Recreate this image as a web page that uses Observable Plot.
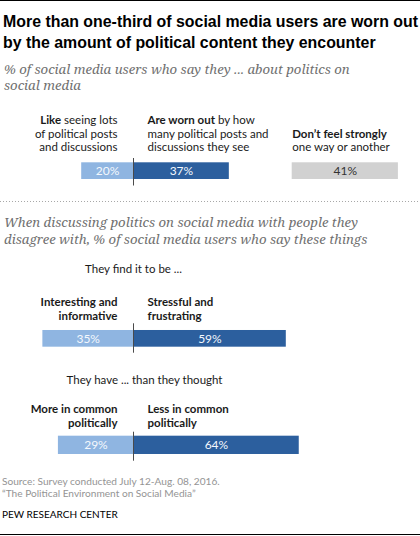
<!DOCTYPE html>
<html><head><meta charset="utf-8">
<script src="https://cdn.jsdelivr.net/npm/d3@7"></script>
<script src="https://cdn.jsdelivr.net/npm/@observablehq/plot@0.6"></script>
<style>
body{margin:0;background:#fff;}
#c{position:relative;width:420px;height:536px;overflow:hidden;background:#fff;}
#c > *{position:absolute;left:0;margin:0;}
.rule{width:420px;height:1px;background:#000;}
.title{left:3px !important;top:11.3px;font:bold 15.9px/21px "Liberation Sans",sans-serif;color:#000;white-space:nowrap;}
.sub{left:4px !important;font:italic 13.2px/16.7px "Noto Serif",serif;color:#707070;white-space:nowrap;}
.dots{top:201px;width:420px;height:1px;background-image:repeating-linear-gradient(to right,#a8a8a8 0 1px,transparent 1px 3px);}
.src{left:2px !important;top:476px;font:10.15px/11.6px Lato,sans-serif;color:#949494;white-space:nowrap;}
.pew{left:2px !important;top:507.5px;font:10px/12px Lato,sans-serif;color:#000;white-space:nowrap;}
</style></head><body><div id="c"></div>
<script>
// ---------- data ----------
const titleLines = ["More than one-third of social media users are worn out", "by the amount of political content they encounter"];
const subtitle1Lines = ["% of social media users who say they ... about politics on", "social media"];
const subtitle2Lines = ["When discussing politics on social media with people they", "disagree with, % of social media users who say these things"];

const p1Labels = ["**Like** seeing lots\nof political posts\nand discussions", "**Are worn out** by how\nmany political posts and\ndiscussions they see"];
const p1Values = [20, 37];
const p1OtherLabel = "**Don\u2019t feel strongly**\none way or another";
const p1OtherValue = 41;

const p2Intro = "They find it to be ...";
const p2Labels = ["**Interesting and**\n**informative**", "**Stressful and**\n**frustrating**"];
const p2Values = [35, 59];

const p3Intro = "They have ... than they thought";
const p3Labels = ["**More in common**\n**politically**", "**Less in common**\n**politically**"];
const p3Values = [29, 64];

const sourceLines = ["Source: Survey conducted July 12-Aug. 08, 2016.", "\u201cThe Political Environment on Social Media\u201d"];
const credit = "PEW RESEARCH CENTER";

// ---------- style / layout ----------
const LIGHT = "#8fb5e1", DARK = "#2c5f9e", GREY = "#d1d1d1";
const PX_PER_PCT = 2.59, ZERO_X = 133, W = 420;
const X_DOMAIN = [-ZERO_X / PX_PER_PCT, (W - ZERO_X) / PX_PER_PCT];
const OTHER_START = (291.7 - ZERO_X) / PX_PER_PCT; // gap before the "other" bar
const FONT = "Lato, 'Open Sans', sans-serif";

const root = document.getElementById("c");
function add(cls, html, top){ const d=document.createElement("div"); d.className=cls; d.innerHTML=html; if(top!=null) d.style.top=top+"px"; root.appendChild(d); return d; }

function richify(svg){
  svg.querySelectorAll("text").forEach(t=>{
    const ts = t.querySelectorAll("tspan");
    const targets = ts.length ? Array.from(ts) : [t];
    for (const el of targets){
      const s = el.textContent;
      if (!s.includes("**")) continue;
      el.textContent = "";
      s.split("**").forEach((part,i)=>{
        if(!part) return;
        if(i%2){ const b=document.createElementNS("http://www.w3.org/2000/svg","tspan"); b.setAttribute("font-weight","bold"); b.textContent=part; el.appendChild(b); }
        else el.appendChild(document.createTextNode(part));
      });
    }
  });
}

function panel(cfg){
  const {top, frameTop, frameBottom, values, labels, labelDy, lineH, insetTop, insetBottom, intro, introDy, introDx, other} = cfg;
  const left = [{value: values[0], label: labels[0]}];
  const right = [{value: values[1], label: labels[1]}];
  const midDy = (insetTop - insetBottom) / 2;
  const lab = {frameAnchor: "top", dy: labelDy, lineAnchor: "bottom", lineHeight: lineH / 11.5, fontSize: 11.5, fill: "#1a1a1a"};
  const marks = [
    Plot.barX(left, {x1: d => -d.value, x2: 0, fill: LIGHT, insetTop, insetBottom}),
    Plot.barX(right, {x1: 0, x2: d => d.value, fill: DARK, insetTop, insetBottom}),
    Plot.ruleX([0], {stroke: "#4a4a4a", strokeWidth: 1}),
    Plot.text(left, {x: d => -d.value / 2, text: d => d.value + "%", frameAnchor: "middle", dy: midDy, fill: "#f4f8fd", fontSize: 12}),
    Plot.text(right, {x: d => d.value / 2, text: d => d.value + "%", frameAnchor: "middle", dy: midDy, fill: "#f4f8fd", fontSize: 12}),
    Plot.text(left, {...lab, x: 0, text: "label", textAnchor: "end", dx: -16}),
    Plot.text(right, {...lab, x: 0, text: "label", textAnchor: "start", dx: 14})
  ];
  if (intro) marks.push(Plot.text([intro], {x: 0, text: d => d, frameAnchor: "top", dy: introDy, dx: introDx, lineAnchor: "bottom", textAnchor: "middle", fontSize: 11.5, fill: "#1a1a1a"}));
  if (other) {
    const o = [other];
    marks.push(
      Plot.barX(o, {x1: OTHER_START, x2: d => OTHER_START + d.value, fill: GREY, insetTop, insetBottom}),
      Plot.text(o, {x: d => OTHER_START + d.value / 2, text: d => d.value + "%", frameAnchor: "middle", dy: midDy, fill: "#333", fontSize: 12}),
      Plot.text(o, {...lab, x: OTHER_START, text: "label", textAnchor: "start"})
    );
  }
  const svg = Plot.plot({
    width: W, height: frameBottom - top,
    marginLeft: 0, marginRight: 0, marginTop: frameTop - top, marginBottom: 0,
    x: {domain: X_DOMAIN, axis: null},
    style: {fontFamily: FONT, fontSize: "11.5px", background: "transparent", overflow: "visible"},
    marks
  });
  richify(svg);
  const d = document.createElement("div");
  d.style.top = top + "px";
  d.appendChild(svg);
  root.appendChild(d);
}

// ---------- header ----------
add("rule", "", 0);
add("title", titleLines.join("<br>"));
add("sub", subtitle1Lines.join("<br>"), 60.5);

panel({top: 105, frameTop: 158, frameBottom: 185.5, values: p1Values, labels: p1Labels, labelDy: -7.3, lineH: 13.7,
       insetTop: 4.3, insetBottom: 6.5, other: {value: p1OtherValue, label: p1OtherLabel}});

add("dots", "");
add("sub", subtitle2Lines.join("<br>"), 213.8);

panel({top: 255, frameTop: 323.3, frameBottom: 352.7, values: p2Values, labels: p2Labels, labelDy: -3.3, lineH: 15,
       insetTop: 6.7, insetBottom: 6, intro: p2Intro, introDy: -50.6, introDx: 0});

panel({top: 365, frameTop: 431.7, frameBottom: 460.7, values: p3Values, labels: p3Labels, labelDy: -4.7, lineH: 14.3,
       insetTop: 4, insetBottom: 6.7, intro: p3Intro, introDy: -47.7, introDx: 11});

// ---------- footer ----------
add("src", sourceLines.join("<br>"));
add("pew", credit);
add("rule", "", 534);
</script></body></html>
